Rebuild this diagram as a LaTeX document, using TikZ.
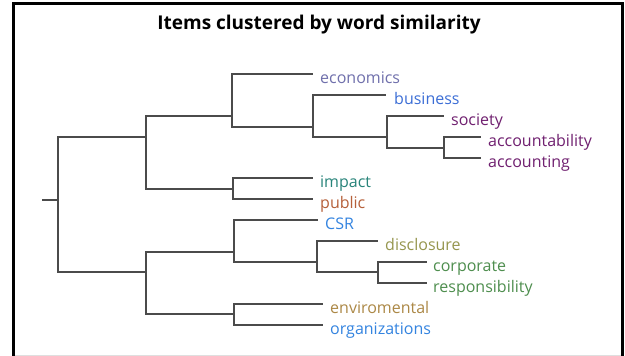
\documentclass[tikz,border=0pt]{standalone}
\usepackage{fontspec}
\setmainfont{Open Sans}
\definecolor{cEcon}{RGB}{112,112,172}
\definecolor{cBus}{RGB}{60,110,214}
\definecolor{cSoc}{RGB}{112,32,112}
\definecolor{cImp}{RGB}{40,132,122}
\definecolor{cPub}{RGB}{182,96,58}
\definecolor{cCSR}{RGB}{52,132,224}
\definecolor{cDis}{RGB}{150,150,78}
\definecolor{cCorp}{RGB}{78,142,78}
\definecolor{cEnv}{RGB}{172,136,70}
\definecolor{cLine}{RGB}{75,75,75}
\tikzset{
  branch/.style={draw=cLine, line width=2pt, line cap=rect},
  lab/.style={anchor=base west, inner sep=0pt, font=\fontsize{16}{18}\selectfont},
  frameline/.style={draw=black, line width=3pt},
}
\begin{document}
\begin{tikzpicture}[x=1pt,y=-1pt]
\useasboundingbox (0,0) rectangle (625,356);
\fill[white] (0,0) rectangle (625,356);
% frame
\draw[frameline] (13.5,358) -- (13.5,3.5) -- (622.5,3.5) -- (622.5,358);
\draw[gray!25, line width=1pt] (15,355) -- (621,355);
% title
\node[anchor=base, inner sep=0pt, font=\bfseries\fontsize{19}{22}\selectfont] (title) at (319,29) {Items clustered by word similarity};
% leaf line ends
\coordinate (e-econ) at (312,74);
\coordinate (e-bus) at (385,95);
\coordinate (e-soc) at (443,116);
\coordinate (e-acb) at (480,137);
\coordinate (e-acc) at (480,158);
\coordinate (e-imp) at (312,178);
\coordinate (e-pub) at (312,199);
\coordinate (e-csr) at (317,220);
\coordinate (e-dis) at (377,241);
\coordinate (e-cor) at (426,262);
\coordinate (e-res) at (426,283);
\coordinate (e-env) at (322,304);
\coordinate (e-org) at (322,325);
% junctions
\coordinate (stub) at (43,200);
\coordinate (R) at (58,200);
\coordinate (T) at (146,137);
\coordinate (A) at (232,116);
\coordinate (B) at (313,127);
\coordinate (C) at (387,137);
\coordinate (D) at (444,148);
\coordinate (E) at (233,189);
\coordinate (U) at (146,272);
\coordinate (V) at (234,252);
\coordinate (X) at (317,262);
\coordinate (Y) at (378,272);
\coordinate (W) at (234,314);
% branches
\draw[branch] (stub) -- (R);
\draw[branch] (R) |- (T);
\draw[branch] (R) |- (U);
\draw[branch] (T) |- (A);
\draw[branch] (T) |- (E);
\draw[branch] (A) |- (e-econ);
\draw[branch] (A) |- (B);
\draw[branch] (B) |- (e-bus);
\draw[branch] (B) |- (C);
\draw[branch] (C) |- (e-soc);
\draw[branch] (C) |- (D);
\draw[branch] (D) |- (e-acb);
\draw[branch] (D) |- (e-acc);
\draw[branch] (E) |- (e-imp);
\draw[branch] (E) |- (e-pub);
\draw[branch] (U) |- (V);
\draw[branch] (U) |- (W);
\draw[branch] (V) |- (e-csr);
\draw[branch] (V) |- (X);
\draw[branch] (X) |- (e-dis);
\draw[branch] (X) |- (Y);
\draw[branch] (Y) |- (e-cor);
\draw[branch] (Y) |- (e-res);
\draw[branch] (W) |- (e-env);
\draw[branch] (W) |- (e-org);
% labels
\node[lab, text=cEcon] (l-econ) at (320,83) {economics};
\node[lab, text=cBus] (l-bus) at (394,104) {business};
\node[lab, text=cSoc] (l-soc) at (451,125) {society};
\node[lab, text=cSoc] (l-acb) at (488,146) {accountability};
\node[lab, text=cSoc] (l-acc) at (488,167) {accounting};
\node[lab, text=cImp] (l-imp) at (320,187) {impact};
\node[lab, text=cPub] (l-pub) at (320,208) {public};
\node[lab, text=cCSR] (l-csr) at (325,229) {CSR};
\node[lab, text=cDis] (l-dis) at (385,250) {disclosure};
\node[lab, text=cCorp] (l-cor) at (433,271) {corporate};
\node[lab, text=cCorp] (l-res) at (433,292) {responsibility};
\node[lab, text=cEnv] (l-env) at (330,313) {enviromental};
\node[lab, text=cCSR] (l-org) at (330,334) {organizations};
\end{tikzpicture}
\end{document}
